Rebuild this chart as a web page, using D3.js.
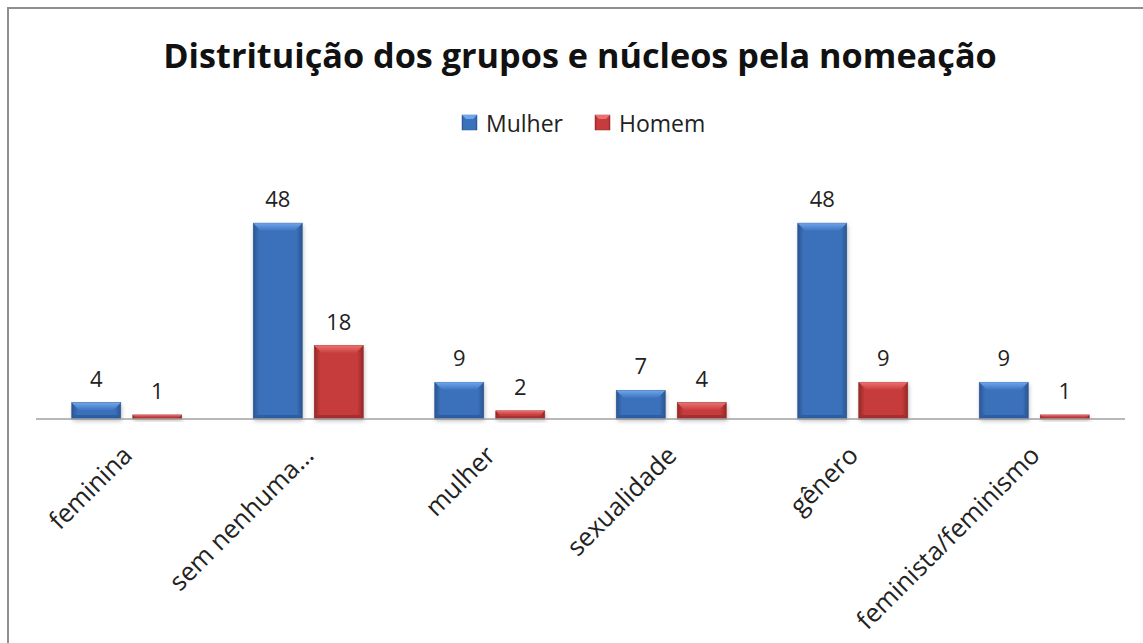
<!DOCTYPE html>
<html>
<head>
<meta charset="utf-8">
<script src="https://cdn.jsdelivr.net/npm/d3@7"></script>
<style>
  html, body { margin: 0; padding: 0; background: #fff; }
  svg text { font-family: 'Open Sans', 'DejaVu Sans', sans-serif; fill: #111; }
</style>
</head>
<body>
<div class="js-chart"></div>
<script>
'use strict';

// chart data
var categories = ['feminina', 'sem nenhuma…', 'mulher', 'sexualidade', 'gênero', 'feminista/feminismo'];
var seriesNames = ['Mulher', 'Homem'];
var mulherValues = [4, 48, 9, 7, 48, 9];
var homemValues = [1, 18, 2, 4, 9, 1];
var titleText = 'Distrituição dos grupos e núcleos pela nomeação';

var W = 1143, H = 643;

//colors per series: [edge, main, bevel top, bevel bottom]
var palette = {
    Mulher: { edge: '#2a5593', main: '#3b71bb', light: '#6ea6ec', dark: '#2c5a9c' },
    Homem: { edge: '#952828', main: '#c63b3b', light: '#ec7070', dark: '#9c2c2c' }
};

var svg = d3.select('.js-chart').append('svg')
    .attr('width', W)
    .attr('height', H);

var defs = svg.append('defs');

//horizontal gradient for the bar body - darker at the sides
seriesNames.forEach(function (s) {
    var c = palette[s];
    var g = defs.append('linearGradient').attr('id', 'body-' + s)
        .attr('x1', 0).attr('x2', 1).attr('y1', 0).attr('y2', 0);
    g.append('stop').attr('offset', '0%').attr('stop-color', c.edge);
    g.append('stop').attr('offset', '12%').attr('stop-color', c.main);
    g.append('stop').attr('offset', '88%').attr('stop-color', c.main);
    g.append('stop').attr('offset', '100%').attr('stop-color', c.edge);

    var t = defs.append('linearGradient').attr('id', 'top-' + s)
        .attr('x1', 0).attr('x2', 0).attr('y1', 0).attr('y2', 1);
    t.append('stop').attr('offset', '0%').attr('stop-color', c.light);
    t.append('stop').attr('offset', '100%').attr('stop-color', c.main);
});

var blur = defs.append('filter').attr('id', 'shadow')
    .attr('x', '-20%').attr('y', '-20%').attr('width', '140%').attr('height', '140%');
blur.append('feGaussianBlur').attr('stdDeviation', 2);

//outer frame
svg.append('rect')
    .attr('x', 8).attr('y', 8)
    .attr('width', W + 40).attr('height', H + 40)
    .style('fill', 'none')
    .style('stroke', '#8e8e8e')
    .style('stroke-width', 2);

//title - fit to the width of the original
var title = svg.append('text')
    .attr('x', 580).attr('y', 68)
    .attr('text-anchor', 'middle')
    .style('font-weight', 'bold')
    .style('font-size', '34px')
    .text(titleText);
var tw = title.node().getComputedTextLength();
title.style('font-size', (34 * 834 / tw) + 'px');

//scales
var x0 = d3.scaleBand().domain(categories).range([36, 1125]);
var x1 = d3.scaleBand().domain(seriesNames).range([0, x0.bandwidth()])
    .paddingInner(0.197).paddingOuter(0.586);
var y = d3.scaleLinear().domain([0, 50]).range([419, 215]);

var rows = categories.map(function (c, i) {
    return { cat: c, values: [
        { s: 'Mulher', v: mulherValues[i] },
        { s: 'Homem', v: homemValues[i] }
    ] };
});

//legend
var legend = svg.append('g').attr('class', 'js-legend');
var legendX = [462, 595];
seriesNames.forEach(function (s, i) {
    var c = palette[s];
    legend.append('rect')
        .attr('x', legendX[i]).attr('y', 115)
        .attr('width', 15).attr('height', 15)
        .style('fill', 'url(#body-' + s + ')')
        .style('stroke', c.edge).style('stroke-width', 0.5);
    legend.append('path')
        .attr('d', 'M' + legendX[i] + ' 115 h15 l-4 4 h-7 z')
        .style('fill', c.light);
    legend.append('text')
        .attr('x', legendX[i] + 24).attr('y', 132)
        .style('font-size', '23px')
        .style('fill', '#222')
        .text(s);
});

//bars
var groups = svg.selectAll('.js-cat').data(rows).enter().append('g')
    .attr('class', 'js-cat')
    .attr('transform', function (d) { return 'translate(' + x0(d.cat) + ',0)'; });

var bars = groups.selectAll('.js-bar').data(function (d) { return d.values; })
    .enter().append('g')
    .attr('class', 'js-bar');

//soft shadow under the bar
bars.append('rect')
    .attr('x', function (d) { return x1(d.s) + 1; })
    .attr('y', function (d) { return y(d.v) + 2; })
    .attr('width', x1.bandwidth())
    .attr('height', function (d) { return y(0) - y(d.v); })
    .style('fill', 'rgba(0,0,0,0.25)')
    .attr('filter', 'url(#shadow)');

bars.append('rect')
    .attr('x', function (d) { return x1(d.s); })
    .attr('y', function (d) { return y(d.v); })
    .attr('width', x1.bandwidth())
    .attr('height', function (d) { return y(0) - y(d.v); })
    .style('fill', function (d) { return 'url(#body-' + d.s + ')'; })
    .style('stroke', function (d) { return palette[d.s].edge; })
    .style('stroke-width', 0.6);

//top bevel
bars.append('path')
    .attr('d', function (d) {
        var bx = x1(d.s), bw = x1.bandwidth(), top = y(d.v);
        var b = Math.min(8, (y(0) - top) / 2);
        return 'M' + bx + ' ' + top + ' h' + bw +
            ' l' + (-b) + ' ' + b + ' h' + (-(bw - 2 * b)) + ' z';
    })
    .style('fill', function (d) { return 'url(#top-' + d.s + ')'; });

//bottom bevel
bars.append('path')
    .attr('d', function (d) {
        var bx = x1(d.s), bw = x1.bandwidth(), top = y(d.v), bot = y(0);
        var b = Math.min(4, (bot - top) / 3);
        return 'M' + bx + ' ' + bot + ' h' + bw +
            ' l' + (-b) + ' ' + (-b) + ' h' + (-(bw - 2 * b)) + ' z';
    })
    .style('fill', function (d) { return palette[d.s].dark; })
    .style('opacity', 0.8);

//value labels
bars.append('text')
    .attr('x', function (d) { return x1(d.s) + x1.bandwidth() / 2; })
    .attr('y', function (d) { return y(d.v) - 16; })
    .attr('text-anchor', 'middle')
    .style('font-size', '22px')
    .style('fill', '#222')
    .text(function (d) { return d.v; });

//category axis
svg.append('line')
    .attr('x1', x0.range()[0]).attr('x2', x0.range()[1])
    .attr('y1', y(0)).attr('y2', y(0))
    .style('stroke', '#a0a0a0')
    .style('stroke-width', 1.5);

svg.selectAll('.js-cat-label').data(categories).enter().append('text')
    .attr('class', 'js-cat-label')
    .attr('text-anchor', 'end')
    .attr('transform', function (d) {
        var cx = x0(d) + x0.bandwidth() / 2 + 7;
        return 'translate(' + cx + ',457) rotate(-45)';
    })
    .style('font-size', '25.5px')
    .style('fill', '#222')
    .text(function (d) { return d; });
</script>
</body>
</html>
